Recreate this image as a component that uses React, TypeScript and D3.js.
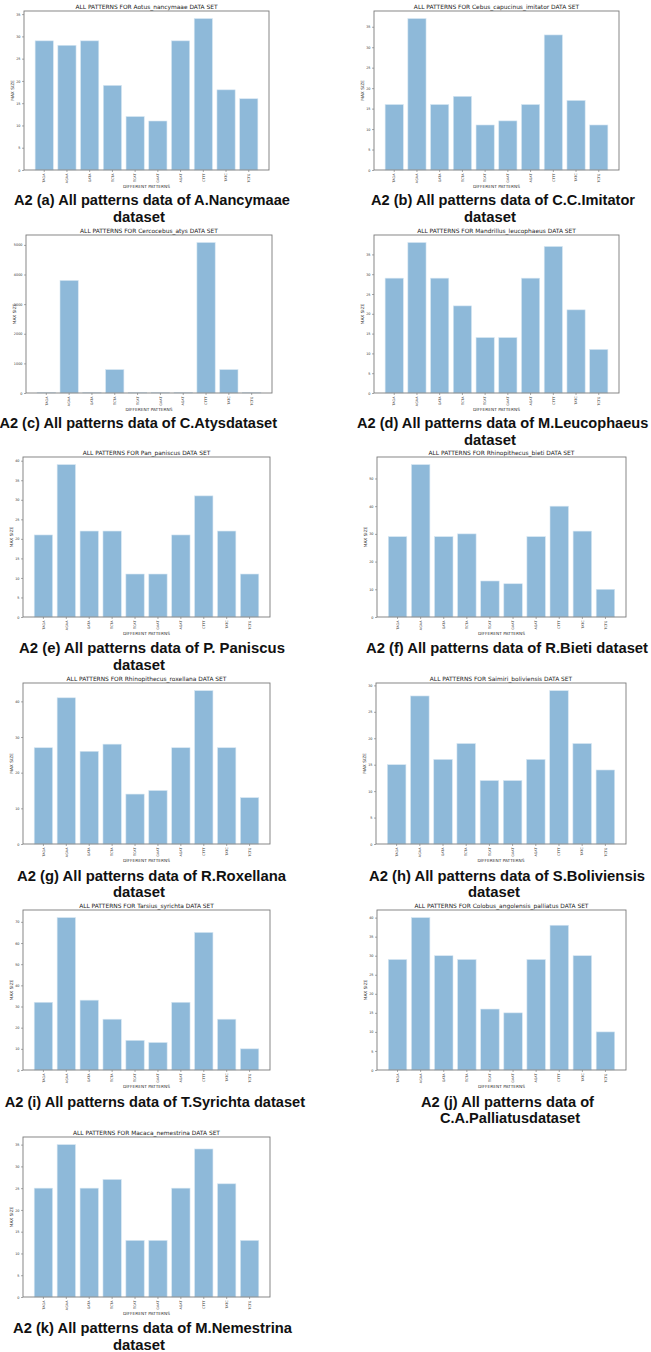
import { useRef, useEffect } from 'react';
import * as d3 from 'd3';

const PATTERNS = ["TAGA", "AGAA", "GATA", "TCTA", "TCAT", "GAAT", "AGAT", "CTTT", "TATC", "TCTG"];

// max size per pattern, one array per species
const AOTUS = [29, 28, 29, 19, 12, 11, 29, 34, 18, 16];
const CEBUS = [16, 37, 16, 18, 11, 12, 16, 33, 17, 11];
const CERCOCEBUS = [20, 3800, 20, 790, 12, 11, 20, 5080, 790, 12];
const MANDRILLUS = [29, 38, 29, 22, 14, 14, 29, 37, 21, 11];
const PAN = [21, 39, 22, 22, 11, 11, 21, 31, 22, 11];
const RHINO_BIETI = [29, 55, 29, 30, 13, 12, 29, 40, 31, 10];
const RHINO_ROX = [27, 41, 26, 28, 14, 15, 27, 43, 27, 13];
const SAIMIRI = [15, 28, 16, 19, 12, 12, 16, 29, 19, 14];
const TARSIUS = [32, 72, 33, 24, 14, 13, 32, 65, 24, 10];
const COLOBUS = [29, 40, 30, 29, 16, 15, 29, 38, 30, 10];
const MACACA = [25, 35, 25, 27, 13, 13, 25, 34, 26, 13];

const SPECIES = [
  "Aotus_nancymaae", "Cebus_capucinus_imitator", "Cercocebus_atys", "Mandrillus_leucophaeus",
  "Pan_paniscus", "Rhinopithecus_bieti", "Rhinopithecus_roxellana", "Saimiri_boliviensis",
  "Tarsius_syrichta", "Colobus_angolensis_palliatus", "Macaca_nemestrina"
];
const SERIES = [AOTUS, CEBUS, CERCOCEBUS, MANDRILLUS, PAN, RHINO_BIETI, RHINO_ROX, SAIMIRI, TARSIUS, COLOBUS, MACACA];
const TICK_STEPS = [5, 5, 1000, 5, 5, 10, 10, 5, 10, 5, 5];

const CAPTIONS = [
  ["A2 (a) All patterns data of A.Nancymaae", "dataset"],
  ["A2 (b) All patterns data of C.C.Imitator", "dataset"],
  ["A2 (c) All patterns data of C.Atysdataset"],
  ["A2 (d) All patterns data of M.Leucophaeus", "dataset"],
  ["A2 (e) All patterns data of P. Paniscus", "dataset"],
  ["A2 (f) All patterns data of R.Bieti dataset"],
  ["A2 (g) All patterns data of R.Roxellana", "dataset"],
  ["A2 (h) All patterns data of S.Boliviensis", "dataset"],
  ["A2 (i) All patterns data of T.Syrichta dataset"],
  ["A2 (j) All patterns data of", "C.A.Palliatusdataset"],
  ["A2 (k) All patterns data of M.Nemestrina", "dataset"]
];

// frame boxes of each panel (left, right, top, bottom)
const FRAMES = [
  [24, 269, 11, 170], [374, 619, 11, 170],
  [26, 272, 235, 393], [374, 619, 235, 393],
  [23, 270, 457, 617], [377, 626, 457, 617],
  [23, 270, 683, 844], [376, 626, 683, 844],
  [23, 270, 910, 1070], [377, 626, 910, 1070],
  [23, 270, 1137, 1297]
];

// caption lines: [anchor, x, baselineY, fitWidth]
const CAPTION_POS = [
  [["start", 14, 205, 276], ["start", 113, 222, 52]],
  [["start", 371, 205, 264], ["start", 464, 222, 52]],
  [["end", 277, 428, 0]],
  [["start", 357, 428, 0], ["start", 464, 445, 52]],
  [["start", 19, 653, 266], ["start", 113, 670, 52]],
  [["start", 366, 653, 282]],
  [["start", 17, 881, 269], ["start", 113, 897, 52]],
  [["start", 369, 881, 276], ["start", 468, 897, 52]],
  [["end", 305, 1107, 0]],
  [["start", 421, 1107, 173], ["start", 440, 1123, 140]],
  [["start", 13, 1333, 279], ["start", 113, 1350, 52]]
];

function App() {
  const svgRef = useRef(null);

  useEffect(() => {
    const svg = d3.select(svgRef.current);
    svg.selectAll("*").remove();
    svg.append("rect").attr("width", 651).attr("height", 1352).attr("fill", "#fff");

    SERIES.forEach((values, i) => {
      const [L, R, T, B] = FRAMES[i];
      const g = svg.append("g");

      const x = d3.scaleBand()
        .domain(PATTERNS)
        .range([L, R])
        .paddingInner(0.2)
        .paddingOuter(0.49);

      const ymax = d3.max(values) * 1.05;
      const y = d3.scaleLinear().domain([0, ymax]).range([B, T]);
      const step = TICK_STEPS[i];

      // bars
      g.selectAll("rect.bar")
        .data(values)
        .enter()
        .append("rect")
        .attr("class", "bar")
        .attr("x", (d, j) => x(PATTERNS[j]))
        .attr("width", x.bandwidth())
        .attr("y", d => y(d))
        .attr("height", d => B - y(d))
        .attr("fill", "#8eb9d9")
        .attr("stroke", "#d6e6f2")
        .attr("stroke-width", 0.6);

      // y axis
      const yAxis = g.append("g")
        .attr("transform", `translate(${L},0)`)
        .call(d3.axisLeft(y)
          .tickValues(d3.range(0, ymax, step))
          .tickFormat(d3.format("d"))
          .tickSize(2).tickPadding(1.5));
      yAxis.select(".domain").remove();
      yAxis.selectAll("line").attr("stroke", "#555").attr("stroke-width", 0.5);
      yAxis.selectAll("text").style("font-size", "3.4px").style("font-family", "DejaVu Sans").attr("fill", "#333");

      // x axis
      const xAxis = g.append("g")
        .attr("transform", `translate(0,${B})`)
        .call(d3.axisBottom(x).tickSize(2).tickPadding(1.5));
      xAxis.select(".domain").remove();
      xAxis.selectAll("line").attr("stroke", "#555").attr("stroke-width", 0.5);
      xAxis.selectAll("text")
        .style("font-size", "3.4px")
        .style("font-family", "DejaVu Sans")
        .attr("fill", "#333")
        .attr("transform", "rotate(-90)")
        .attr("text-anchor", "end")
        .attr("x", -3.5)
        .attr("y", 0)
        .attr("dy", "0.35em");

      // frame
      g.append("rect")
        .attr("x", L).attr("y", T)
        .attr("width", R - L).attr("height", B - T)
        .attr("fill", "none")
        .attr("stroke", "#7a7a7a")
        .attr("stroke-width", 0.9);

      // title and axis labels
      g.append("text")
        .attr("x", (L + R) / 2).attr("y", T - 2.5)
        .attr("text-anchor", "middle")
        .style("font-family", "DejaVu Sans")
        .style("font-size", "5.9px")
        .attr("fill", "#222")
        .text(`ALL PATTERNS FOR ${SPECIES[i]} DATA SET`);

      g.append("text")
        .attr("x", (L + R) / 2).attr("y", B + 18)
        .attr("text-anchor", "middle")
        .style("font-family", "DejaVu Sans")
        .style("font-size", "4.3px")
        .attr("fill", "#333")
        .text("DIFFERENT PATTERNS");

      g.append("text")
        .attr("transform", `translate(${L - 10.5},${(T + B) / 2}) rotate(-90)`)
        .attr("text-anchor", "middle")
        .style("font-family", "DejaVu Sans")
        .style("font-size", "4.3px")
        .attr("fill", "#333")
        .text("MAX SIZE");

      // caption under the panel
      CAPTIONS[i].forEach((line, k) => {
        const [anchor, cx, cy, w] = CAPTION_POS[i][k];
        const t = g.append("text")
          .attr("x", cx).attr("y", cy)
          .attr("text-anchor", anchor)
          .style("font-family", "Liberation Sans, Arial, sans-serif")
          .style("font-weight", "bold")
          .style("font-size", "14.6px")
          .attr("fill", "#111")
          .text(line);
        if (w) t.attr("textLength", w).attr("lengthAdjust", "spacingAndGlyphs");
      });
    });
  }, []);

  return (
    <svg ref={svgRef} width={651} height={1352}
      style={{ position: "absolute", left: 0, top: 0, display: "block" }} />
  );
}

export default App;
